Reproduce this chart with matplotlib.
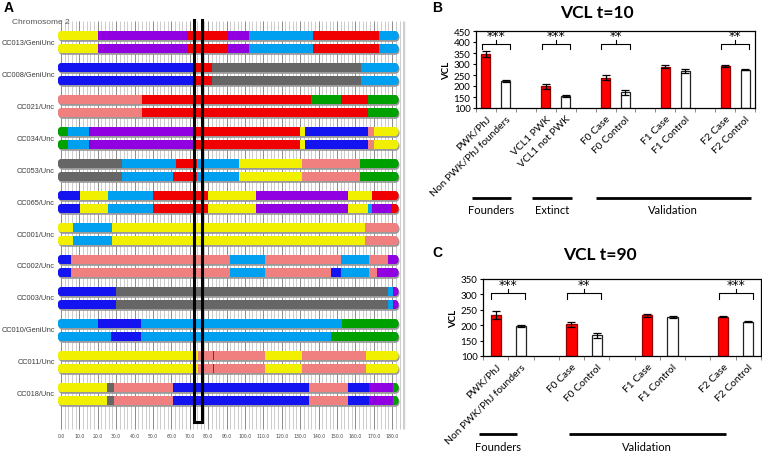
import matplotlib
matplotlib.use("Agg")
import matplotlib.pyplot as plt
import numpy as np
from matplotlib.patches import FancyBboxPatch
from matplotlib.transforms import blended_transform_factory

W, H = 762, 452
plt.rcParams['font.family'] = ['Lato', 'DejaVu Sans']

# ---------------- panel A: founder mosaics on chromosome 2 (Mb) ----------------
founder_colors = {
    'A': '#F0F000',  # A/J
    'B': '#666666',  # C57BL/6J
    'C': '#F08080',  # 129S1/SvImJ
    'D': '#1414F0',  # NOD/ShiLtJ
    'E': '#00A0F0',  # NZO/HlLtJ
    'F': '#00A000',  # CAST/EiJ
    'G': '#F00000',  # PWK/PhJ
    'H': '#9000E0',  # WSB/EiJ
}
chrom_end = 183.5

strains = ['CC013/GeniUnc', 'CC008/GeniUnc', 'CC021/Unc', 'CC034/Unc', 'CC053/Unc',
           'CC065/Unc', 'CC001/Unc', 'CC002/Unc', 'CC003/Unc', 'CC010/GeniUnc',
           'CC011/Unc', 'CC018/Unc']

# (founder, segment end in Mb)
cc013_1 = [('A', 20), ('H', 69), ('G', 91), ('H', 102), ('E', 137), ('G', 173), ('E', chrom_end)]
cc013_2 = cc013_1
cc008_1 = [('D', 72.5), ('G', 82), ('B', 163), ('E', chrom_end)]
cc008_2 = cc008_1
cc021_1 = [('C', 44), ('G', 136), ('F', 152), ('G', 167), ('F', chrom_end)]
cc021_2 = [('C', 44), ('G', 167), ('F', chrom_end)]
cc034_1 = [('F', 3.7), ('E', 15), ('H', 72), ('G', 130), ('A', 132.6), ('D', 167), ('C', 170), ('A', chrom_end)]
cc034_2 = cc034_1
cc053_1 = [('B', 33), ('E', 62.5), ('G', 74), ('E', 97), ('A', 131), ('C', 162.5), ('F', chrom_end)]
cc053_2 = [('B', 33), ('E', 61), ('G', 74), ('E', 97), ('A', 131), ('C', 162.5), ('F', chrom_end)]
cc065_1 = [('D', 10.3), ('A', 25.5), ('E', 50), ('G', 80), ('A', 106), ('H', 156), ('A', 169), ('G', chrom_end)]
cc065_2 = [('D', 10.3), ('A', 25.5), ('E', 50), ('G', 80), ('A', 106), ('H', 156), ('A', 167), ('E', 169),
           ('H', 180), ('G', chrom_end)]
cc001_1 = [('A', 6.7), ('E', 28), ('A', 165), ('C', chrom_end)]
cc001_2 = cc001_1
cc002_1 = [('D', 5.3), ('C', 92), ('E', 111), ('C', 152), ('E', 167.5), ('C', 178), ('H', chrom_end)]
cc002_2 = [('D', 5.3), ('C', 92), ('E', 111), ('C', 147), ('D', 152), ('E', 167.5), ('C', 172), ('H', chrom_end)]
cc003_1 = [('D', 30), ('B', 178), ('E', 180.5), ('H', chrom_end)]
cc003_2 = cc003_1
cc010_1 = [('E', 20), ('D', 43.5), ('E', 153), ('F', chrom_end)]
cc010_2 = [('E', 27), ('D', 43.5), ('E', 147), ('F', chrom_end)]
cc011_1 = [('A', 74.5), ('C', 82.7), ('H', 83.3), ('C', 111), ('A', 131), ('C', 166), ('A', chrom_end)]
cc011_2 = cc011_1
cc018_1 = [('A', 25), ('B', 29), ('C', 61), ('D', 135), ('C', 156), ('D', 167.5), ('H', 180.5), ('F', chrom_end)]
cc018_2 = cc018_1

haplotypes = [(cc013_1, cc013_2), (cc008_1, cc008_2), (cc021_1, cc021_2), (cc034_1, cc034_2),
              (cc053_1, cc053_2), (cc065_1, cc065_2), (cc001_1, cc001_2), (cc002_1, cc002_2),
              (cc003_1, cc003_2), (cc010_1, cc010_2), (cc011_1, cc011_2), (cc018_1, cc018_2)]

mb_ticks = np.arange(0, 181, 10)
highlight = (72.3, 76.6)   # boxed region

# ---------------- panels B and C: VCL ----------------
cats_10 = ['PWK/PhJ', 'Non PWK/PhJ founders', 'VCL1 PWK', 'VCL1 not PWK', 'F0 Case', 'F0 Control',
           'F1 Case', 'F1 Control', 'F2 Case', 'F2 Control']
vcl_10 = [345, 223, 198, 153, 238, 172, 287, 270, 291, 275]
err_10 = [12, 3, 10, 4, 11, 12, 7, 9, 6, 4]
slots_10 = [0, 1, 3, 4, 6, 7, 9, 10, 12, 13]
sig_10 = [(0, '***'), (2, '***'), (4, '**'), (8, '**')]
groups_10 = [('Founders', -0.7, 1.25), ('Extinct', 2.3, 4.3), ('Validation', 5.5, 13.3)]

cats_90 = ['PWK/PhJ', 'Non PWK/PhJ founders', 'F0 Case', 'F0 Control', 'F1 Case', 'F1 Control',
           'F2 Case', 'F2 Control']
vcl_90 = [234, 197, 203, 167, 232, 227, 228, 212]
err_90 = [13, 3, 8, 7, 5, 3, 2, 2]
slots_90 = [0, 1, 3, 4, 6, 7, 9, 10]
sig_90 = [(0, '***'), (2, '**'), (6, '***')]
groups_90 = [('Founders', -0.67, 0.83), ('Validation', 2.9, 9.1)]


def rect(l, t, r, b):
    return [l / W, 1 - b / H, (r - l) / W, (b - t) / H]


fig = plt.figure(figsize=(W / 100, H / 100), dpi=100)

# ---- panel A ----
ax_l, ax_r, ax_t, ax_b = 56, 406, 20, 432
px_per_mb = 1.84
row_px = 32
axA = fig.add_axes(rect(ax_l, ax_t, ax_r, ax_b))
x0 = -2.7
axA.set_xlim(x0, x0 + (ax_r - ax_l) / px_per_mb)
axA.set_ylim((ax_b - 43) / row_px, (ax_t - 43) / row_px)
axA.axis('off')

grid_top, grid_bot = (22 - 43) / row_px, (430 - 43) / row_px
minor = np.arange(0, 187, 2)
axA.vlines(minor, grid_bot, grid_top, color='#c4c4c4', lw=0.6, zorder=0)
axA.vlines(mb_ticks, grid_bot, grid_top, color='#8c8c8c', lw=0.7, zorder=0)
axA.vlines(186.5, grid_bot, grid_top, color='#d0d0d0', lw=1.0, zorder=0)
for t in mb_ticks:
    axA.text(t, (437 - 43) / row_px, f'{t:.1f}', fontsize=3.3, ha='center', va='center',
             color='#444444', family='DejaVu Sans')

bar_h = 9.5 / row_px
aspect = px_per_mb / row_px
radius = (bar_h / 2) / aspect * 0.99
start = -1.8
for i, (name, pair) in enumerate(zip(strains, haplotypes)):
    axA.text(x0 - 0.7, i, name, ha='right', va='center', fontsize=5.35, color='#3c3c3c',
             family='Liberation Sans')
    for k, segs in enumerate(pair):
        yc = i + (-6.5 if k == 0 else 6.5) / row_px
        end = segs[-1][1]
        shadow = FancyBboxPatch((start + 0.5, yc - bar_h / 2 + 1.6 / row_px), end - start, bar_h,
                                boxstyle=f"round,pad=0,rounding_size={radius}",
                                mutation_aspect=aspect, facecolor='#9a9a9a', edgecolor='none',
                                zorder=1)
        axA.add_patch(shadow)
        capsule = FancyBboxPatch((start, yc - bar_h / 2), end - start, bar_h,
                                 boxstyle=f"round,pad=0,rounding_size={radius}",
                                 mutation_aspect=aspect, facecolor='none', edgecolor='none',
                                 zorder=2)
        axA.add_patch(capsule)
        lefts = [start] + [s[1] for s in segs[:-1]]
        widths = [s[1] - l for s, l in zip(segs, lefts)]
        cols = [founder_colors[s[0]] for s in segs]
        bars = axA.barh(yc, widths, left=lefts, height=bar_h, color=cols, lw=0, zorder=2)
        for b in bars:
            b.set_clip_path(capsule)

axA.add_patch(plt.Rectangle((highlight[0], (423 - 43) / row_px), highlight[1] - highlight[0],
                            (15 - 423) / row_px, fill=False, ec='black', lw=2.2, zorder=5))

fig.text(12 / W, 1 - 22 / H, 'Chromosome 2', fontsize=6, color='#555555', va='center',
         family='Liberation Sans')
fig.text(4 / W, 1 - 8 / H, 'A', fontsize=10, fontweight='bold', va='center', family='Liberation Sans')
fig.text(432 / W, 1 - 8 / H, 'B', fontsize=10, fontweight='bold', va='center', family='Liberation Sans')
fig.text(432 / W, 1 - 253 / H, 'C', fontsize=10, fontweight='bold', va='center', family='Liberation Sans')


def vcl_panel(box, title_xy, title, cats, vals, errs, slots, sigs, groups, ylim, yticks,
              width, br, group_y, label_y):
    ax = fig.add_axes(rect(*box))
    cols = ['#FF0000' if j % 2 == 0 else 'white' for j in range(len(vals))]
    edges = ['#900000' if j % 2 == 0 else '#222222' for j in range(len(vals))]
    ax.bar(slots, [v - ylim[0] for v in vals], bottom=ylim[0], width=width, color=cols,
           edgecolor=edges, lw=0.9, zorder=2)
    ax.errorbar(slots, vals, yerr=errs, fmt='none', ecolor='black', elinewidth=0.9,
                capsize=2.6, capthick=0.9, zorder=3)
    ax.set_xlim(-0.5, max(slots) + 0.5)
    ax.set_ylim(*ylim)
    ax.set_yticks(yticks)
    ax.tick_params(axis='y', labelsize=7, length=2.5, width=0.8, pad=1.5)
    ax.set_xticks(slots)
    ax.set_xticklabels(cats, rotation=45, ha='right', va='top', rotation_mode='anchor', fontsize=7.4)
    ax.tick_params(axis='x', length=0, pad=4)
    ax.set_xticks(np.arange(-0.5, max(slots) + 1, 1), minor=True)
    ax.tick_params(axis='x', which='minor', length=3, width=0.6, color='#777777')
    for s in ax.spines.values():
        s.set_linewidth(0.9)
    ax.set_ylabel('VCL', fontsize=7, fontweight='bold', labelpad=2)
    fig.text(title_xy[0] / W, 1 - title_xy[1] / H, title, fontsize=12.5, fontweight='bold',
             ha='center', va='center')
    h, lo, hi, star_y = br
    for j, stars in sigs:
        xa, xb = slots[j] - width / 2 + 0.02, slots[j + 1] + width / 2 - 0.02
        xm = (xa + xb) / 2
        ax.plot([xa, xa, xb, xb], [lo, h, h, lo], color='black', lw=0.8, clip_on=False, zorder=4)
        ax.plot([xm, xm], [h, hi], color='black', lw=0.8, clip_on=False, zorder=4)
        ax.text(xm, star_y, stars, ha='center', va='center', fontsize=9, family='DejaVu Sans',
                clip_on=False)
    tr = blended_transform_factory(ax.transData, ax.transAxes)
    for name, ga, gb in groups:
        ax.plot([ga, gb], [group_y, group_y], color='black', lw=2, transform=tr, clip_on=False,
                solid_capstyle='butt')
        ax.text((ga + gb) / 2, label_y, name, transform=tr, ha='center', va='center', fontsize=8)
    return ax


vcl_panel((476, 32, 755, 109), (597, 13), 'VCL t=10', cats_10, vcl_10, err_10, slots_10, sig_10,
          groups_10, (100, 450), np.arange(100, 451, 50), 0.45, (392, 369, 407, 430),
          (109 - 199) / 77, (109 - 211) / 77)
vcl_panel((483, 280, 761, 357), (600, 255), 'VCL t=90', cats_90, vcl_90, err_90, slots_90, sig_90,
          groups_90, (100, 350), np.arange(100, 351, 50), 0.4, (305, 285, 318, 332),
          (357 - 435) / 77, (357 - 448) / 77)

fig.savefig('out.png', dpi=100)
